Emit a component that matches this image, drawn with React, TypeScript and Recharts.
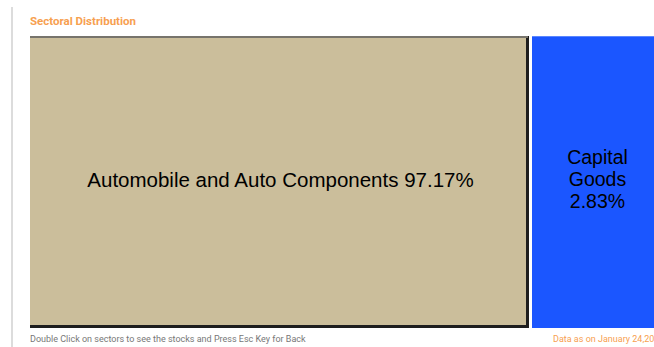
import { Treemap } from 'recharts'

// sector names, share labels, and the box sizes as drawn in the picture
const sectors = ['Automobile and Auto Components', 'Capital Goods']
const shares = [97.17, 2.83]
const boxSizes = [79, 21]
const colors = ['#cbbe9b', '#1b56ff']

const data = sectors.map((name, i) => ({
  name,
  share: shares[i],
  size: boxSizes[i],
  color: colors[i],
}))

const LABEL_FONT = 'Liberation Sans, Arial, sans-serif'

function SectorCell(props: any) {
  const { x, y, width, height, name, share, color, depth } = props
  if (depth !== 1) return null
  const isWide = width > 200
  const cx = x + width / 2
  const cy = y + height / 2
  if (isWide) {
    return (
      <g>
        <rect x={x} y={y} width={width - 2} height={height} fill="#1e1e1e" />
        <rect x={x} y={y} width={width - 5} height={height - 3} fill={color} />
        <rect x={x} y={y} width={width - 3} height={2} fill="#77746c" />
        <text x={cx} y={cy + 5} textAnchor="middle" fontFamily={LABEL_FONT} fontSize={20.5} fill="#000">
          {`${name} ${share.toFixed(2)}%`}
        </text>
      </g>
    )
  }
  const words = name.split(' ')
  return (
    <g>
      <rect x={x + 1} y={y} width={width - 1} height={height} fill={color} />
      <rect x={x + 1} y={y} width={width - 1} height={1} fill="#5a86ff" />
      <text textAnchor="middle" fontFamily={LABEL_FONT} fontSize={19.5} fill="#000">
        {words.map((w: string, i: number) => (
          <tspan key={i} x={cx} y={cy - 18 + i * 22}>{w}</tspan>
        ))}
        <tspan x={cx} y={cy - 18 + words.length * 22}>{`${share.toFixed(2)}%`}</tspan>
      </text>
    </g>
  )
}

export default function App() {
  return (
    <div style={{ position: 'fixed', left: 0, top: 0, width: 654, height: 347, overflow: 'hidden', background: '#fff', fontFamily: 'Roboto, sans-serif' }}>
      <div style={{ position: 'absolute', left: 11, top: 7, bottom: 0, width: 2, background: '#dcdcdc' }} />
      <div style={{ position: 'absolute', left: 30, top: 14, fontSize: 11.5, fontWeight: 700, color: '#f7a04f' }}>
        Sectoral Distribution
      </div>
      <div style={{ position: 'absolute', left: 30, top: 36 }}>
        <Treemap
          width={634}
          height={292}
          data={data}
          dataKey="size"
          nameKey="name"
          aspectRatio={1}
          isAnimationActive={false}
          content={<SectorCell />}
        />
      </div>
      <div style={{ position: 'absolute', left: 30, top: 334, fontSize: 9, color: '#777' }}>
        Double Click on sectors to see the stocks and Press Esc Key for Back
      </div>
      <div style={{ position: 'absolute', left: 553, top: 334, fontSize: 9, color: '#f7a04f', whiteSpace: 'nowrap' }}>
        Data as on January 24,2025
      </div>
    </div>
  )
}
